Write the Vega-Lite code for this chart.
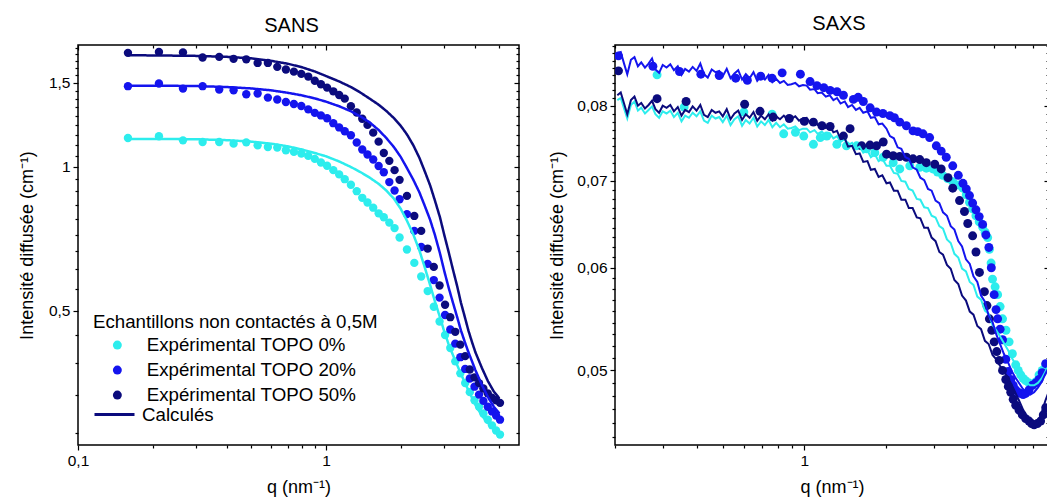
{
"$schema": "https://vega.github.io/schema/vega-lite/v6.json",
"padding": {"left": 17, "top": 13, "right": 0, "bottom": 0},
"spacing": 27,
"config": {
  "font": "Liberation Sans",
  "view": {"stroke": "black", "strokeWidth": 1.5},
  "axis": {"domain": false, "grid": false, "tickColor": "black", "tickWidth": 1.2, "labelColor": "black", "titleColor": "black", "labelFontSize": 15.5, "titleFontSize": 18, "titleFontWeight": "normal", "labelFlush": false, "labelOverlap": false, "labelPadding": 3, "titlePadding": 10},
  "title": {"fontSize": 20, "fontWeight": "normal", "color": "black"}
},
"resolve": {"scale": {"color": "independent"}},
"datasets": {
"sansP": [
{"s":"0%","q":0.159,"I":1.15},{"s":"0%","q":0.212,"I":1.16},{"s":"0%","q":0.265,"I":1.137},{"s":"0%","q":0.318,"I":1.128},{"s":"0%","q":0.371,"I":1.128},{"s":"0%","q":0.424,"I":1.119},{"s":"0%","q":0.477,"I":1.126},{"s":"0%","q":0.53,"I":1.11},{"s":"0%","q":0.583,"I":1.101},{"s":"0%","q":0.636,"I":1.098},{"s":"0%","q":0.689,"I":1.084},{"s":"0%","q":0.742,"I":1.076},{"s":"0%","q":0.795,"I":1.067},{"s":"0%","q":0.848,"I":1.055},{"s":"0%","q":0.901,"I":1.04},{"s":"0%","q":0.954,"I":1.022},{"s":"0%","q":1.01,"I":1.006},{"s":"0%","q":1.07,"I":0.985},{"s":"0%","q":1.13,"I":0.965},{"s":"0%","q":1.19,"I":0.943},{"s":"0%","q":1.26,"I":0.918},{"s":"0%","q":1.33,"I":0.89},{"s":"0%","q":1.4,"I":0.862},{"s":"0%","q":1.47,"I":0.843},{"s":"0%","q":1.55,"I":0.822},{"s":"0%","q":1.63,"I":0.8},{"s":"0%","q":1.71,"I":0.785},{"s":"0%","q":1.8,"I":0.765},{"s":"0%","q":1.89,"I":0.745},{"s":"0%","q":1.98,"I":0.712},{"s":"0%","q":2.12,"I":0.672},{"s":"0%","q":2.27,"I":0.63},{"s":"0%","q":2.42,"I":0.59},{"s":"0%","q":2.57,"I":0.55},{"s":"0%","q":2.72,"I":0.51},{"s":"0%","q":2.87,"I":0.475},{"s":"0%","q":3.02,"I":0.445},{"s":"0%","q":3.17,"I":0.418},{"s":"0%","q":3.32,"I":0.392},{"s":"0%","q":3.48,"I":0.37},{"s":"0%","q":3.64,"I":0.353},{"s":"0%","q":3.8,"I":0.338},{"s":"0%","q":3.97,"I":0.325},{"s":"0%","q":4.14,"I":0.315},{"s":"0%","q":4.31,"I":0.305},{"s":"0%","q":4.49,"I":0.296},{"s":"0%","q":4.67,"I":0.288},{"s":"0%","q":4.85,"I":0.281},{"s":"0%","q":5.03,"I":0.2755},
{"s":"20%","q":0.159,"I":1.476},{"s":"20%","q":0.212,"I":1.495},{"s":"20%","q":0.265,"I":1.459},{"s":"20%","q":0.318,"I":1.476},{"s":"20%","q":0.371,"I":1.452},{"s":"20%","q":0.424,"I":1.447},{"s":"20%","q":0.477,"I":1.42},{"s":"20%","q":0.53,"I":1.425},{"s":"20%","q":0.583,"I":1.397},{"s":"20%","q":0.636,"I":1.384},{"s":"20%","q":0.689,"I":1.368},{"s":"20%","q":0.742,"I":1.355},{"s":"20%","q":0.795,"I":1.342},{"s":"20%","q":0.848,"I":1.32},{"s":"20%","q":0.901,"I":1.298},{"s":"20%","q":0.954,"I":1.282},{"s":"20%","q":1.01,"I":1.265},{"s":"20%","q":1.07,"I":1.235},{"s":"20%","q":1.13,"I":1.21},{"s":"20%","q":1.19,"I":1.188},{"s":"20%","q":1.26,"I":1.165},{"s":"20%","q":1.33,"I":1.125},{"s":"20%","q":1.4,"I":1.088},{"s":"20%","q":1.47,"I":1.062},{"s":"20%","q":1.55,"I":1.037},{"s":"20%","q":1.63,"I":1.005},{"s":"20%","q":1.71,"I":0.975},{"s":"20%","q":1.8,"I":0.93},{"s":"20%","q":1.89,"I":0.893},{"s":"20%","q":1.98,"I":0.856},{"s":"20%","q":2.12,"I":0.797},{"s":"20%","q":2.27,"I":0.735},{"s":"20%","q":2.42,"I":0.68},{"s":"20%","q":2.57,"I":0.627},{"s":"20%","q":2.72,"I":0.58},{"s":"20%","q":2.87,"I":0.533},{"s":"20%","q":3.02,"I":0.49},{"s":"20%","q":3.17,"I":0.457},{"s":"20%","q":3.32,"I":0.427},{"s":"20%","q":3.48,"I":0.4},{"s":"20%","q":3.64,"I":0.378},{"s":"20%","q":3.8,"I":0.361},{"s":"20%","q":3.97,"I":0.347},{"s":"20%","q":4.14,"I":0.334},{"s":"20%","q":4.31,"I":0.324},{"s":"20%","q":4.49,"I":0.315},{"s":"20%","q":4.67,"I":0.308},{"s":"20%","q":4.85,"I":0.302},{"s":"20%","q":5.03,"I":0.296},
{"s":"50%","q":0.159,"I":1.733},{"s":"50%","q":0.212,"I":1.741},{"s":"50%","q":0.265,"I":1.737},{"s":"50%","q":0.318,"I":1.695},{"s":"50%","q":0.371,"I":1.7},{"s":"50%","q":0.424,"I":1.684},{"s":"50%","q":0.477,"I":1.68},{"s":"50%","q":0.53,"I":1.651},{"s":"50%","q":0.583,"I":1.651},{"s":"50%","q":0.636,"I":1.62},{"s":"50%","q":0.689,"I":1.6},{"s":"50%","q":0.742,"I":1.583},{"s":"50%","q":0.795,"I":1.566},{"s":"50%","q":0.848,"I":1.546},{"s":"50%","q":0.901,"I":1.515},{"s":"50%","q":0.954,"I":1.49},{"s":"50%","q":1.01,"I":1.466},{"s":"50%","q":1.07,"I":1.44},{"s":"50%","q":1.13,"I":1.415},{"s":"50%","q":1.19,"I":1.39},{"s":"50%","q":1.26,"I":1.34},{"s":"50%","q":1.33,"I":1.3},{"s":"50%","q":1.4,"I":1.262},{"s":"50%","q":1.47,"I":1.225},{"s":"50%","q":1.55,"I":1.18},{"s":"50%","q":1.63,"I":1.13},{"s":"50%","q":1.71,"I":1.07},{"s":"50%","q":1.8,"I":1.03},{"s":"50%","q":1.89,"I":0.985},{"s":"50%","q":1.98,"I":0.94},{"s":"50%","q":2.12,"I":0.87},{"s":"50%","q":2.27,"I":0.79},{"s":"50%","q":2.42,"I":0.735},{"s":"50%","q":2.57,"I":0.675},{"s":"50%","q":2.72,"I":0.618},{"s":"50%","q":2.87,"I":0.565},{"s":"50%","q":3.02,"I":0.515},{"s":"50%","q":3.17,"I":0.485},{"s":"50%","q":3.32,"I":0.452},{"s":"50%","q":3.48,"I":0.425},{"s":"50%","q":3.64,"I":0.402},{"s":"50%","q":3.8,"I":0.377},{"s":"50%","q":3.97,"I":0.363},{"s":"50%","q":4.14,"I":0.353},{"s":"50%","q":4.31,"I":0.344},{"s":"50%","q":4.49,"I":0.336},{"s":"50%","q":4.67,"I":0.329},{"s":"50%","q":4.85,"I":0.325},{"s":"50%","q":5.03,"I":0.321}
],
"sansL": [
{"s":"0%","q":0.159,"I":1.145},{"s":"0%","q":0.2,"I":1.145},{"s":"0%","q":0.3,"I":1.143},{"s":"0%","q":0.4,"I":1.138},{"s":"0%","q":0.5,"I":1.13},{"s":"0%","q":0.6,"I":1.119},{"s":"0%","q":0.7,"I":1.105},{"s":"0%","q":0.8,"I":1.088},{"s":"0%","q":0.9,"I":1.07},{"s":"0%","q":1.0,"I":1.053},{"s":"0%","q":1.13,"I":1.027},{"s":"0%","q":1.26,"I":1.0},{"s":"0%","q":1.38,"I":0.975},{"s":"0%","q":1.5,"I":0.95},{"s":"0%","q":1.63,"I":0.922},{"s":"0%","q":1.75,"I":0.893},{"s":"0%","q":1.88,"I":0.858},{"s":"0%","q":2.0,"I":0.818},{"s":"0%","q":2.12,"I":0.772},{"s":"0%","q":2.25,"I":0.722},{"s":"0%","q":2.38,"I":0.669},{"s":"0%","q":2.5,"I":0.617},{"s":"0%","q":2.63,"I":0.566},{"s":"0%","q":2.75,"I":0.523},{"s":"0%","q":2.88,"I":0.485},{"s":"0%","q":3.0,"I":0.452},{"s":"0%","q":3.12,"I":0.426},{"s":"0%","q":3.25,"I":0.404},{"s":"0%","q":3.38,"I":0.385},{"s":"0%","q":3.5,"I":0.369},{"s":"0%","q":3.63,"I":0.354},{"s":"0%","q":3.75,"I":0.341},{"s":"0%","q":3.88,"I":0.329},{"s":"0%","q":4.0,"I":0.318},{"s":"0%","q":4.25,"I":0.302},{"s":"0%","q":4.5,"I":0.291},{"s":"0%","q":4.75,"I":0.284},{"s":"0%","q":5.0,"I":0.279},
{"s":"20%","q":0.159,"I":1.48},{"s":"20%","q":0.2,"I":1.48},{"s":"20%","q":0.3,"I":1.477},{"s":"20%","q":0.4,"I":1.47},{"s":"20%","q":0.5,"I":1.46},{"s":"20%","q":0.6,"I":1.447},{"s":"20%","q":0.7,"I":1.43},{"s":"20%","q":0.8,"I":1.412},{"s":"20%","q":0.9,"I":1.392},{"s":"20%","q":1.0,"I":1.37},{"s":"20%","q":1.13,"I":1.34},{"s":"20%","q":1.26,"I":1.308},{"s":"20%","q":1.38,"I":1.275},{"s":"20%","q":1.5,"I":1.24},{"s":"20%","q":1.63,"I":1.195},{"s":"20%","q":1.75,"I":1.15},{"s":"20%","q":1.88,"I":1.1},{"s":"20%","q":2.0,"I":1.05},{"s":"20%","q":2.12,"I":0.995},{"s":"20%","q":2.25,"I":0.94},{"s":"20%","q":2.38,"I":0.885},{"s":"20%","q":2.5,"I":0.83},{"s":"20%","q":2.63,"I":0.775},{"s":"20%","q":2.75,"I":0.72},{"s":"20%","q":2.88,"I":0.66},{"s":"20%","q":3.0,"I":0.605},{"s":"20%","q":3.12,"I":0.56},{"s":"20%","q":3.25,"I":0.52},{"s":"20%","q":3.38,"I":0.485},{"s":"20%","q":3.5,"I":0.455},{"s":"20%","q":3.63,"I":0.43},{"s":"20%","q":3.75,"I":0.41},{"s":"20%","q":3.88,"I":0.392},{"s":"20%","q":4.0,"I":0.376},{"s":"20%","q":4.25,"I":0.35},{"s":"20%","q":4.5,"I":0.33},{"s":"20%","q":4.75,"I":0.315},{"s":"20%","q":5.0,"I":0.305},
{"s":"50%","q":0.159,"I":1.713},{"s":"50%","q":0.2,"I":1.712},{"s":"50%","q":0.3,"I":1.708},{"s":"50%","q":0.4,"I":1.7},{"s":"50%","q":0.5,"I":1.688},{"s":"50%","q":0.6,"I":1.668},{"s":"50%","q":0.7,"I":1.645},{"s":"50%","q":0.8,"I":1.617},{"s":"50%","q":0.9,"I":1.585},{"s":"50%","q":1.0,"I":1.55},{"s":"50%","q":1.13,"I":1.51},{"s":"50%","q":1.26,"I":1.47},{"s":"50%","q":1.38,"I":1.43},{"s":"50%","q":1.5,"I":1.39},{"s":"50%","q":1.63,"I":1.35},{"s":"50%","q":1.75,"I":1.31},{"s":"50%","q":1.88,"I":1.265},{"s":"50%","q":2.0,"I":1.22},{"s":"50%","q":2.12,"I":1.17},{"s":"50%","q":2.25,"I":1.11},{"s":"50%","q":2.38,"I":1.045},{"s":"50%","q":2.5,"I":0.98},{"s":"50%","q":2.63,"I":0.915},{"s":"50%","q":2.75,"I":0.85},{"s":"50%","q":2.88,"I":0.785},{"s":"50%","q":3.0,"I":0.72},{"s":"50%","q":3.12,"I":0.665},{"s":"50%","q":3.25,"I":0.61},{"s":"50%","q":3.38,"I":0.563},{"s":"50%","q":3.5,"I":0.52},{"s":"50%","q":3.63,"I":0.485},{"s":"50%","q":3.75,"I":0.455},{"s":"50%","q":3.88,"I":0.43},{"s":"50%","q":4.0,"I":0.41},{"s":"50%","q":4.25,"I":0.38},{"s":"50%","q":4.5,"I":0.356},{"s":"50%","q":4.75,"I":0.339},{"s":"50%","q":5.0,"I":0.328}
],
"saxsP": [
{"s":"0%","q":0.286,"I":0.0845},{"s":"0%","q":0.36,"I":0.0798},{"s":"0%","q":0.598,"I":0.0791},{"s":"0%","q":0.76,"I":0.0788},{"s":"0%","q":0.839,"I":0.0761},{"s":"0%","q":0.927,"I":0.0763},{"s":"0%","q":0.995,"I":0.0758},{"s":"0%","q":1.08,"I":0.0747},{"s":"0%","q":1.145,"I":0.0756},{"s":"0%","q":1.21,"I":0.0758},{"s":"0%","q":1.318,"I":0.0747},{"s":"0%","q":1.43,"I":0.0745},{"s":"0%","q":1.56,"I":0.0745},{"s":"0%","q":1.698,"I":0.0741},{"s":"0%","q":1.82,"I":0.0736},{"s":"0%","q":1.955,"I":0.073},{"s":"0%","q":2.128,"I":0.0723},{"s":"0%","q":2.25,"I":0.0715},{"s":"0%","q":2.45,"I":0.0719},{"s":"0%","q":2.667,"I":0.0717},{"s":"0%","q":2.82,"I":0.0716},{"s":"0%","q":2.98,"I":0.0715},{"s":"0%","q":3.1,"I":0.0711},{"s":"0%","q":3.24,"I":0.0707},{"s":"0%","q":3.38,"I":0.0703},{"s":"0%","q":3.53,"I":0.0699},{"s":"0%","q":3.7,"I":0.0695},{"s":"0%","q":3.85,"I":0.0691},{"s":"0%","q":3.96,"I":0.0683},{"s":"0%","q":4.07,"I":0.0674},{"s":"0%","q":4.18,"I":0.0666},{"s":"0%","q":4.3,"I":0.0658},{"s":"0%","q":4.42,"I":0.0651},{"s":"0%","q":4.55,"I":0.0645},{"s":"0%","q":4.65,"I":0.0639},{"s":"0%","q":4.75,"I":0.0633},{"s":"0%","q":4.82,"I":0.062},{"s":"0%","q":4.89,"I":0.0605},{"s":"0%","q":4.95,"I":0.0588},{"s":"0%","q":5.06,"I":0.058},{"s":"0%","q":5.17,"I":0.0572},{"s":"0%","q":5.28,"I":0.056},{"s":"0%","q":5.39,"I":0.0548},{"s":"0%","q":5.55,"I":0.0537},{"s":"0%","q":5.7,"I":0.0526},{"s":"0%","q":5.86,"I":0.0515},{"s":"0%","q":6.03,"I":0.0505},{"s":"0%","q":6.16,"I":0.05},{"s":"0%","q":6.29,"I":0.0496},{"s":"0%","q":6.42,"I":0.0493},{"s":"0%","q":6.56,"I":0.0491},{"s":"0%","q":6.75,"I":0.0489},{"s":"0%","q":6.95,"I":0.0487},{"s":"0%","q":7.15,"I":0.049},{"s":"0%","q":7.35,"I":0.0496},{"s":"0%","q":7.55,"I":0.05},{"s":"0%","q":7.78,"I":0.0505},
{"s":"20%","q":0.206,"I":0.0874},{"s":"20%","q":0.276,"I":0.0858},{"s":"20%","q":0.346,"I":0.085},{"s":"20%","q":0.415,"I":0.0846},{"s":"20%","q":0.485,"I":0.0844},{"s":"20%","q":0.558,"I":0.084},{"s":"20%","q":0.616,"I":0.0837},{"s":"20%","q":0.69,"I":0.0843},{"s":"20%","q":0.76,"I":0.084},{"s":"20%","q":0.828,"I":0.0848},{"s":"20%","q":0.967,"I":0.0846},{"s":"20%","q":1.05,"I":0.0835},{"s":"20%","q":1.113,"I":0.0829},{"s":"20%","q":1.18,"I":0.0826},{"s":"20%","q":1.245,"I":0.0822},{"s":"20%","q":1.32,"I":0.082},{"s":"20%","q":1.394,"I":0.0815},{"s":"20%","q":1.517,"I":0.0809},{"s":"20%","q":1.58,"I":0.0812},{"s":"20%","q":1.651,"I":0.0806},{"s":"20%","q":1.75,"I":0.0797},{"s":"20%","q":1.847,"I":0.0791},{"s":"20%","q":1.95,"I":0.0789},{"s":"20%","q":2.069,"I":0.0786},{"s":"20%","q":2.15,"I":0.0783},{"s":"20%","q":2.25,"I":0.0777},{"s":"20%","q":2.38,"I":0.0772},{"s":"20%","q":2.519,"I":0.0765},{"s":"20%","q":2.62,"I":0.0764},{"s":"20%","q":2.741,"I":0.0761},{"s":"20%","q":2.9,"I":0.0756},{"s":"20%","q":3.07,"I":0.0745},{"s":"20%","q":3.2,"I":0.0738},{"s":"20%","q":3.34,"I":0.073},{"s":"20%","q":3.53,"I":0.0719},{"s":"20%","q":3.7,"I":0.0707},{"s":"20%","q":3.85,"I":0.0697},{"s":"20%","q":3.96,"I":0.069},{"s":"20%","q":4.07,"I":0.0682},{"s":"20%","q":4.18,"I":0.0673},{"s":"20%","q":4.3,"I":0.0665},{"s":"20%","q":4.42,"I":0.0657},{"s":"20%","q":4.55,"I":0.0648},{"s":"20%","q":4.68,"I":0.0636},{"s":"20%","q":4.8,"I":0.0622},{"s":"20%","q":4.9,"I":0.06},{"s":"20%","q":5.02,"I":0.0572},{"s":"20%","q":5.1,"I":0.0557},{"s":"20%","q":5.17,"I":0.0548},{"s":"20%","q":5.28,"I":0.0538},{"s":"20%","q":5.39,"I":0.0528},{"s":"20%","q":5.54,"I":0.051},{"s":"20%","q":5.66,"I":0.0499},{"s":"20%","q":5.78,"I":0.0492},{"s":"20%","q":5.9,"I":0.0487},{"s":"20%","q":6.03,"I":0.0483},{"s":"20%","q":6.16,"I":0.0481},{"s":"20%","q":6.29,"I":0.048},{"s":"20%","q":6.42,"I":0.0479},{"s":"20%","q":6.56,"I":0.048},{"s":"20%","q":6.75,"I":0.0483},{"s":"20%","q":6.95,"I":0.0487},{"s":"20%","q":7.15,"I":0.0489},{"s":"20%","q":7.35,"I":0.0492},{"s":"20%","q":7.55,"I":0.0498},{"s":"20%","q":7.78,"I":0.0506},
{"s":"50%","q":0.206,"I":0.0851},{"s":"50%","q":0.286,"I":0.081},{"s":"50%","q":0.366,"I":0.0806},{"s":"50%","q":0.602,"I":0.0802},{"s":"50%","q":0.686,"I":0.0792},{"s":"50%","q":0.767,"I":0.0784},{"s":"50%","q":0.88,"I":0.0782},{"s":"50%","q":1.0,"I":0.0778},{"s":"50%","q":1.08,"I":0.0777},{"s":"50%","q":1.161,"I":0.0772},{"s":"50%","q":1.245,"I":0.0771},{"s":"50%","q":1.394,"I":0.0758},{"s":"50%","q":1.475,"I":0.0768},{"s":"50%","q":1.628,"I":0.0745},{"s":"50%","q":1.747,"I":0.0746},{"s":"50%","q":1.847,"I":0.0745},{"s":"50%","q":1.955,"I":0.075},{"s":"50%","q":2.011,"I":0.0734},{"s":"50%","q":2.128,"I":0.0732},{"s":"50%","q":2.25,"I":0.0731},{"s":"50%","q":2.381,"I":0.073},{"s":"50%","q":2.519,"I":0.0728},{"s":"50%","q":2.667,"I":0.0727},{"s":"50%","q":2.82,"I":0.0723},{"s":"50%","q":3.03,"I":0.0721},{"s":"50%","q":3.2,"I":0.0715},{"s":"50%","q":3.39,"I":0.0704},{"s":"50%","q":3.53,"I":0.0691},{"s":"50%","q":3.74,"I":0.0676},{"s":"50%","q":3.9,"I":0.0663},{"s":"50%","q":4.01,"I":0.0649},{"s":"50%","q":4.18,"I":0.0635},{"s":"50%","q":4.3,"I":0.0617},{"s":"50%","q":4.43,"I":0.0595},{"s":"50%","q":4.62,"I":0.0575},{"s":"50%","q":4.72,"I":0.0561},{"s":"50%","q":4.82,"I":0.0548},{"s":"50%","q":4.92,"I":0.0537},{"s":"50%","q":5.02,"I":0.0526},{"s":"50%","q":5.13,"I":0.0517},{"s":"50%","q":5.24,"I":0.0509},{"s":"50%","q":5.39,"I":0.05},{"s":"50%","q":5.54,"I":0.0492},{"s":"50%","q":5.66,"I":0.0486},{"s":"50%","q":5.78,"I":0.0481},{"s":"50%","q":5.9,"I":0.0475},{"s":"50%","q":6.03,"I":0.047},{"s":"50%","q":6.2,"I":0.0466},{"s":"50%","q":6.38,"I":0.0462},{"s":"50%","q":6.56,"I":0.0459},{"s":"50%","q":6.75,"I":0.0457},{"s":"50%","q":6.9,"I":0.0455},{"s":"50%","q":7.05,"I":0.0454},{"s":"50%","q":7.25,"I":0.0455},{"s":"50%","q":7.45,"I":0.0457},{"s":"50%","q":7.62,"I":0.0462},{"s":"50%","q":7.78,"I":0.0468}
],
"saxsL": [
{"s":"0%","q":0.204,"I":0.0808},{"s":"0%","q":0.21,"I":0.0811},{"s":"0%","q":0.216,"I":0.0796},{"s":"0%","q":0.222,"I":0.0782},{"s":"0%","q":0.229,"I":0.0801},{"s":"0%","q":0.236,"I":0.0806},{"s":"0%","q":0.243,"I":0.0793},{"s":"0%","q":0.25,"I":0.0797},{"s":"0%","q":0.258,"I":0.0789},{"s":"0%","q":0.266,"I":0.0794},{"s":"0%","q":0.274,"I":0.0799},{"s":"0%","q":0.282,"I":0.0788},{"s":"0%","q":0.291,"I":0.0783},{"s":"0%","q":0.3,"I":0.0792},
{"s":"0%","q":0.31,"I":0.0789},{"s":"0%","q":0.32,"I":0.0793},{"s":"0%","q":0.33,"I":0.0784},{"s":"0%","q":0.341,"I":0.079},{"s":"0%","q":0.352,"I":0.0778},{"s":"0%","q":0.363,"I":0.0786},{"s":"0%","q":0.375,"I":0.0783},{"s":"0%","q":0.387,"I":0.079},{"s":"0%","q":0.4,"I":0.0785},
{"s":"0%","q":0.413,"I":0.0792},{"s":"0%","q":0.426,"I":0.0779},{"s":"0%","q":0.44,"I":0.0776},{"s":"0%","q":0.455,"I":0.0786},{"s":"0%","q":0.47,"I":0.0782},{"s":"0%","q":0.485,"I":0.0784},{"s":"0%","q":0.5,"I":0.0777},
{"s":"0%","q":0.517,"I":0.0786},{"s":"0%","q":0.534,"I":0.0773},{"s":"0%","q":0.552,"I":0.0781},{"s":"0%","q":0.57,"I":0.0785},{"s":"0%","q":0.589,"I":0.0772},{"s":"0%","q":0.608,"I":0.078},{"s":"0%","q":0.628,"I":0.0775},{"s":"0%","q":0.649,"I":0.0783},{"s":"0%","q":0.67,"I":0.0771},{"s":"0%","q":0.692,"I":0.0778},{"s":"0%","q":0.715,"I":0.0773},{"s":"0%","q":0.738,"I":0.078},{"s":"0%","q":0.762,"I":0.077},{"s":"0%","q":0.787,"I":0.0776},{"s":"0%","q":0.813,"I":0.077},{"s":"0%","q":0.84,"I":0.0774},{"s":"0%","q":0.868,"I":0.0768},{"s":"0%","q":0.896,"I":0.0769},{"s":"0%","q":0.926,"I":0.0771},{"s":"0%","q":0.956,"I":0.0766},{"s":"0%","q":0.988,"I":0.0768},
{"s":"0%","q":1.02,"I":0.0768},{"s":"0%","q":1.05,"I":0.0763},{"s":"0%","q":1.09,"I":0.0766},{"s":"0%","q":1.12,"I":0.0761},{"s":"0%","q":1.16,"I":0.0764},{"s":"0%","q":1.2,"I":0.0758},{"s":"0%","q":1.24,"I":0.0762},{"s":"0%","q":1.28,"I":0.0755},{"s":"0%","q":1.32,"I":0.0758},{"s":"0%","q":1.36,"I":0.075},{"s":"0%","q":1.41,"I":0.0754},{"s":"0%","q":1.45,"I":0.0746},{"s":"0%","q":1.5,"I":0.0749},{"s":"0%","q":1.55,"I":0.0741},{"s":"0%","q":1.6,"I":0.0744},{"s":"0%","q":1.65,"I":0.0736},{"s":"0%","q":1.71,"I":0.0739},{"s":"0%","q":1.76,"I":0.073},{"s":"0%","q":1.82,"I":0.0734},{"s":"0%","q":1.88,"I":0.0725},{"s":"0%","q":1.94,"I":0.0728},
{"s":"0%","q":2.01,"I":0.0719},{"s":"0%","q":2.07,"I":0.0719},{"s":"0%","q":2.14,"I":0.071},{"s":"0%","q":2.21,"I":0.0709},{"s":"0%","q":2.28,"I":0.07},{"s":"0%","q":2.36,"I":0.0699},{"s":"0%","q":2.43,"I":0.069},{"s":"0%","q":2.51,"I":0.0688},{"s":"0%","q":2.6,"I":0.0678},{"s":"0%","q":2.68,"I":0.0677},{"s":"0%","q":2.77,"I":0.0668},{"s":"0%","q":2.86,"I":0.0667},{"s":"0%","q":2.95,"I":0.0658},
{"s":"0%","q":3.05,"I":0.0656},{"s":"0%","q":3.15,"I":0.0646},{"s":"0%","q":3.25,"I":0.0643},{"s":"0%","q":3.36,"I":0.0631},{"s":"0%","q":3.47,"I":0.0627},{"s":"0%","q":3.58,"I":0.0615},{"s":"0%","q":3.7,"I":0.0611},{"s":"0%","q":3.82,"I":0.0599},{"s":"0%","q":3.95,"I":0.0596},
{"s":"0%","q":4.08,"I":0.0585},{"s":"0%","q":4.21,"I":0.0582},{"s":"0%","q":4.35,"I":0.057},{"s":"0%","q":4.49,"I":0.0567},{"s":"0%","q":4.64,"I":0.0556},{"s":"0%","q":4.79,"I":0.0553},{"s":"0%","q":4.95,"I":0.0542},
{"s":"0%","q":5.11,"I":0.0537},{"s":"0%","q":5.28,"I":0.0531},{"s":"0%","q":5.45,"I":0.0525},{"s":"0%","q":5.63,"I":0.0519},{"s":"0%","q":5.81,"I":0.0512},{"s":"0%","q":6.0,"I":0.0506},{"s":"0%","q":6.2,"I":0.05},{"s":"0%","q":6.4,"I":0.0494},{"s":"0%","q":6.61,"I":0.0489},{"s":"0%","q":6.82,"I":0.0487},{"s":"0%","q":7.05,"I":0.0487},{"s":"0%","q":7.28,"I":0.0489},{"s":"0%","q":7.52,"I":0.0493},{"s":"0%","q":7.76,"I":0.0499},{"s":"0%","q":8.0,"I":0.0505},
{"s":"20%","q":0.204,"I":0.0878},{"s":"20%","q":0.21,"I":0.088},{"s":"20%","q":0.216,"I":0.0862},{"s":"20%","q":0.222,"I":0.0846},{"s":"20%","q":0.229,"I":0.0868},{"s":"20%","q":0.236,"I":0.0872},{"s":"20%","q":0.243,"I":0.0858},{"s":"20%","q":0.25,"I":0.0864},{"s":"20%","q":0.258,"I":0.0856},{"s":"20%","q":0.266,"I":0.0862},{"s":"20%","q":0.274,"I":0.087},{"s":"20%","q":0.282,"I":0.0853},{"s":"20%","q":0.291,"I":0.0848},{"s":"20%","q":0.3,"I":0.086},
{"s":"20%","q":0.31,"I":0.0856},{"s":"20%","q":0.32,"I":0.0861},{"s":"20%","q":0.33,"I":0.0852},{"s":"20%","q":0.341,"I":0.0858},{"s":"20%","q":0.352,"I":0.0845},{"s":"20%","q":0.363,"I":0.0854},{"s":"20%","q":0.375,"I":0.085},{"s":"20%","q":0.387,"I":0.0857},{"s":"20%","q":0.4,"I":0.0851},
{"s":"20%","q":0.413,"I":0.0862},{"s":"20%","q":0.426,"I":0.0846},{"s":"20%","q":0.44,"I":0.0841},{"s":"20%","q":0.455,"I":0.0853},{"s":"20%","q":0.47,"I":0.0849},{"s":"20%","q":0.485,"I":0.0851},{"s":"20%","q":0.5,"I":0.0843},
{"s":"20%","q":0.517,"I":0.0854},{"s":"20%","q":0.534,"I":0.084},{"s":"20%","q":0.552,"I":0.0847},{"s":"20%","q":0.57,"I":0.0852},{"s":"20%","q":0.589,"I":0.0838},{"s":"20%","q":0.608,"I":0.0846},{"s":"20%","q":0.628,"I":0.084},{"s":"20%","q":0.649,"I":0.0849},{"s":"20%","q":0.67,"I":0.0836},{"s":"20%","q":0.692,"I":0.0843},{"s":"20%","q":0.715,"I":0.0838},{"s":"20%","q":0.738,"I":0.0845},{"s":"20%","q":0.762,"I":0.0834},{"s":"20%","q":0.787,"I":0.0839},{"s":"20%","q":0.813,"I":0.0833},{"s":"20%","q":0.84,"I":0.0836},{"s":"20%","q":0.868,"I":0.083},{"s":"20%","q":0.896,"I":0.0831},{"s":"20%","q":0.926,"I":0.0833},{"s":"20%","q":0.956,"I":0.0828},{"s":"20%","q":0.988,"I":0.083},
{"s":"20%","q":1.02,"I":0.0829},{"s":"20%","q":1.05,"I":0.0823},{"s":"20%","q":1.09,"I":0.0824},{"s":"20%","q":1.12,"I":0.0818},{"s":"20%","q":1.16,"I":0.0819},{"s":"20%","q":1.2,"I":0.0813},{"s":"20%","q":1.24,"I":0.0815},{"s":"20%","q":1.28,"I":0.0808},{"s":"20%","q":1.32,"I":0.0811},{"s":"20%","q":1.36,"I":0.0803},{"s":"20%","q":1.41,"I":0.0806},{"s":"20%","q":1.45,"I":0.0798},{"s":"20%","q":1.5,"I":0.0801},{"s":"20%","q":1.55,"I":0.0794},{"s":"20%","q":1.6,"I":0.0797},{"s":"20%","q":1.65,"I":0.079},{"s":"20%","q":1.71,"I":0.0792},{"s":"20%","q":1.76,"I":0.0783},{"s":"20%","q":1.82,"I":0.0784},{"s":"20%","q":1.88,"I":0.0774},{"s":"20%","q":1.94,"I":0.0775},
{"s":"20%","q":2.01,"I":0.0768},{"s":"20%","q":2.07,"I":0.0758},{"s":"20%","q":2.14,"I":0.0755},{"s":"20%","q":2.21,"I":0.0743},{"s":"20%","q":2.28,"I":0.0741},{"s":"20%","q":2.36,"I":0.073},{"s":"20%","q":2.43,"I":0.0728},{"s":"20%","q":2.51,"I":0.0717},{"s":"20%","q":2.6,"I":0.0714},{"s":"20%","q":2.68,"I":0.0704},{"s":"20%","q":2.77,"I":0.0701},{"s":"20%","q":2.86,"I":0.069},{"s":"20%","q":2.95,"I":0.0688},
{"s":"20%","q":3.05,"I":0.0676},{"s":"20%","q":3.15,"I":0.0673},{"s":"20%","q":3.25,"I":0.0662},{"s":"20%","q":3.36,"I":0.0658},{"s":"20%","q":3.47,"I":0.0646},{"s":"20%","q":3.58,"I":0.0642},{"s":"20%","q":3.7,"I":0.0629},{"s":"20%","q":3.82,"I":0.0623},{"s":"20%","q":3.95,"I":0.0609},
{"s":"20%","q":4.08,"I":0.0604},{"s":"20%","q":4.21,"I":0.0591},{"s":"20%","q":4.35,"I":0.0585},{"s":"20%","q":4.49,"I":0.0571},{"s":"20%","q":4.64,"I":0.0565},{"s":"20%","q":4.79,"I":0.0551},{"s":"20%","q":4.95,"I":0.0545},
{"s":"20%","q":5.11,"I":0.0533},{"s":"20%","q":5.28,"I":0.0524},{"s":"20%","q":5.45,"I":0.0515},{"s":"20%","q":5.63,"I":0.0508},{"s":"20%","q":5.81,"I":0.05},{"s":"20%","q":6.0,"I":0.0494},{"s":"20%","q":6.2,"I":0.0489},{"s":"20%","q":6.4,"I":0.0484},{"s":"20%","q":6.61,"I":0.048},{"s":"20%","q":6.82,"I":0.0479},{"s":"20%","q":7.05,"I":0.0481},{"s":"20%","q":7.28,"I":0.0485},{"s":"20%","q":7.52,"I":0.049},{"s":"20%","q":7.76,"I":0.0497},{"s":"20%","q":8.0,"I":0.0503},
{"s":"50%","q":0.204,"I":0.0815},{"s":"50%","q":0.21,"I":0.0819},{"s":"50%","q":0.216,"I":0.0803},{"s":"50%","q":0.222,"I":0.0788},{"s":"50%","q":0.229,"I":0.0808},{"s":"50%","q":0.236,"I":0.0813},{"s":"50%","q":0.243,"I":0.08},{"s":"50%","q":0.25,"I":0.0804},{"s":"50%","q":0.258,"I":0.0796},{"s":"50%","q":0.266,"I":0.0801},{"s":"50%","q":0.274,"I":0.0807},{"s":"50%","q":0.282,"I":0.0795},{"s":"50%","q":0.291,"I":0.079},{"s":"50%","q":0.3,"I":0.08},
{"s":"50%","q":0.31,"I":0.0797},{"s":"50%","q":0.32,"I":0.0801},{"s":"50%","q":0.33,"I":0.0792},{"s":"50%","q":0.341,"I":0.0798},{"s":"50%","q":0.352,"I":0.0786},{"s":"50%","q":0.363,"I":0.0794},{"s":"50%","q":0.375,"I":0.0791},{"s":"50%","q":0.387,"I":0.0799},{"s":"50%","q":0.4,"I":0.0793},
{"s":"50%","q":0.413,"I":0.0801},{"s":"50%","q":0.426,"I":0.0787},{"s":"50%","q":0.44,"I":0.0784},{"s":"50%","q":0.455,"I":0.0794},{"s":"50%","q":0.47,"I":0.079},{"s":"50%","q":0.485,"I":0.0792},{"s":"50%","q":0.5,"I":0.0785},
{"s":"50%","q":0.517,"I":0.0795},{"s":"50%","q":0.534,"I":0.0781},{"s":"50%","q":0.552,"I":0.0789},{"s":"50%","q":0.57,"I":0.0793},{"s":"50%","q":0.589,"I":0.078},{"s":"50%","q":0.608,"I":0.0788},{"s":"50%","q":0.628,"I":0.0783},{"s":"50%","q":0.649,"I":0.0791},{"s":"50%","q":0.67,"I":0.0779},{"s":"50%","q":0.692,"I":0.0786},{"s":"50%","q":0.715,"I":0.0781},{"s":"50%","q":0.738,"I":0.0788},{"s":"50%","q":0.762,"I":0.0779},{"s":"50%","q":0.787,"I":0.0785},{"s":"50%","q":0.813,"I":0.0781},{"s":"50%","q":0.84,"I":0.0786},{"s":"50%","q":0.868,"I":0.078},{"s":"50%","q":0.896,"I":0.0782},{"s":"50%","q":0.926,"I":0.0785},{"s":"50%","q":0.956,"I":0.0779},{"s":"50%","q":0.988,"I":0.0782},
{"s":"50%","q":1.02,"I":0.0783},{"s":"50%","q":1.05,"I":0.0776},{"s":"50%","q":1.09,"I":0.078},{"s":"50%","q":1.12,"I":0.0773},{"s":"50%","q":1.16,"I":0.0776},{"s":"50%","q":1.2,"I":0.0769},{"s":"50%","q":1.24,"I":0.0772},{"s":"50%","q":1.28,"I":0.0763},{"s":"50%","q":1.32,"I":0.0765},{"s":"50%","q":1.36,"I":0.0754},{"s":"50%","q":1.41,"I":0.0755},{"s":"50%","q":1.45,"I":0.0744},{"s":"50%","q":1.5,"I":0.0745},{"s":"50%","q":1.55,"I":0.0734},{"s":"50%","q":1.6,"I":0.0735},{"s":"50%","q":1.65,"I":0.0724},{"s":"50%","q":1.71,"I":0.0725},{"s":"50%","q":1.76,"I":0.0714},{"s":"50%","q":1.82,"I":0.0715},{"s":"50%","q":1.88,"I":0.0705},{"s":"50%","q":1.94,"I":0.0707},
{"s":"50%","q":2.01,"I":0.0697},{"s":"50%","q":2.07,"I":0.0698},{"s":"50%","q":2.14,"I":0.0688},{"s":"50%","q":2.21,"I":0.0688},{"s":"50%","q":2.28,"I":0.0677},{"s":"50%","q":2.36,"I":0.0677},{"s":"50%","q":2.43,"I":0.0667},{"s":"50%","q":2.51,"I":0.0667},{"s":"50%","q":2.6,"I":0.0656},{"s":"50%","q":2.68,"I":0.0655},{"s":"50%","q":2.77,"I":0.0644},{"s":"50%","q":2.86,"I":0.0644},{"s":"50%","q":2.95,"I":0.0633},
{"s":"50%","q":3.05,"I":0.0629},{"s":"50%","q":3.15,"I":0.0617},{"s":"50%","q":3.25,"I":0.0614},{"s":"50%","q":3.36,"I":0.0603},{"s":"50%","q":3.47,"I":0.0599},{"s":"50%","q":3.58,"I":0.0587},{"s":"50%","q":3.7,"I":0.0583},{"s":"50%","q":3.82,"I":0.0571},{"s":"50%","q":3.95,"I":0.0566},
{"s":"50%","q":4.08,"I":0.0555},{"s":"50%","q":4.21,"I":0.0552},{"s":"50%","q":4.35,"I":0.0541},{"s":"50%","q":4.49,"I":0.0538},{"s":"50%","q":4.64,"I":0.0527},{"s":"50%","q":4.79,"I":0.0524},{"s":"50%","q":4.95,"I":0.0514},
{"s":"50%","q":5.11,"I":0.051},{"s":"50%","q":5.28,"I":0.0504},{"s":"50%","q":5.45,"I":0.0499},{"s":"50%","q":5.63,"I":0.0494},{"s":"50%","q":5.81,"I":0.0488},{"s":"50%","q":6.0,"I":0.0481},{"s":"50%","q":6.2,"I":0.0474},{"s":"50%","q":6.4,"I":0.0467},{"s":"50%","q":6.61,"I":0.0461},{"s":"50%","q":6.82,"I":0.0455},{"s":"50%","q":7.05,"I":0.0453},{"s":"50%","q":7.28,"I":0.0456},{"s":"50%","q":7.52,"I":0.0464},{"s":"50%","q":7.76,"I":0.0474},{"s":"50%","q":8.0,"I":0.0482}
]
},
"hconcat": [
{
  "width": 441, "height": 400,
  "title": {"text": "SANS", "offset": 5, "dx": -7},
  "resolve": {"axis": {"x": "independent", "y": "independent"}},
  "layer": [
    {
      "data": {"name": "sansP"},
      "mark": {"type": "circle", "size": 70, "opacity": 1, "clip": true},
      "encoding": {
        "x": {"field": "q", "type": "quantitative", "scale": {"type": "log", "domain": [0.1, 6], "nice": false},
              "axis": {"orient": "bottom", "title": "q (nm⁻¹)", "values": [0.1,0.2,0.3,0.4,0.5,0.6,0.7,0.8,0.9,1,2,3,4,5],
                       "labelExpr": "datum.value == 0.1 ? '0,1' : datum.value == 1 ? '1' : ''",
                       "tickSize": {"condition": {"test": "datum.value == 0.1 || datum.value == 1", "value": 5}, "value": 3}}},
        "y": {"field": "I", "type": "quantitative", "scale": {"type": "log", "domain": [0.262, 1.8], "nice": false},
              "axis": {"orient": "left", "title": "Intensité diffusée (cm⁻¹)", "titlePadding": 12,
                       "values": [0.27778,0.33333,0.38889,0.44444,0.5,0.55556,0.61111,0.66667,0.72222,0.77778,0.83333,0.88889,0.94444,1,1.05556,1.11111,1.16667,1.22222,1.27778,1.33333,1.38889,1.44444,1.5,1.55556,1.61111,1.66667,1.72222,1.77778],
                       "labelExpr": "datum.value == 0.5 ? '0,5' : datum.value == 1 ? '1' : datum.value == 1.5 ? '1,5' : ''",
                       "tickSize": {"condition": {"test": "datum.value == 0.5 || datum.value == 1 || datum.value == 1.5", "value": 5}, "value": 3}}},
        "color": {"field": "s", "type": "nominal",
                  "scale": {"domain": ["0%", "20%", "50%"], "range": ["#2DEDED", "#1414EE", "#0B0B7D"]},
                  "legend": {"orient": "none", "legendX": 15, "legendY": 268, "title": "Echantillons non contactés à 0,5M",
                             "titleFontSize": 18.7, "titleFontWeight": "normal", "titleColor": "black", "titlePadding": 4, "titleLimit": 600,
                             "labelFontSize": 18.7, "labelColor": "black", "labelLimit": 600, "labelExpr": "'Expérimental TOPO ' + datum.label",
                             "symbolType": "circle", "symbolSize": 80, "symbolOffset": 15, "labelOffset": 20, "rowPadding": 5, "padding": 0, "symbolStrokeWidth": 0}}
      }
    },
    {
      "data": {"name": "sansL"},
      "mark": {"type": "line", "strokeWidth": 2.5, "clip": true},
      "encoding": {
        "x": {"field": "q", "type": "quantitative", "scale": {"type": "log", "domain": [0.1, 6], "nice": false},
              "axis": {"orient": "top", "title": null, "labels": false, "values": [0.1,0.2,0.3,0.4,0.5,0.6,0.7,0.8,0.9,1,2,3,4,5],
                       "tickSize": {"condition": {"test": "datum.value == 0.1 || datum.value == 1", "value": -5}, "value": -3}}},
        "y": {"field": "I", "type": "quantitative", "scale": {"type": "log", "domain": [0.262, 1.8], "nice": false},
              "axis": {"orient": "right", "title": null, "labels": false,
                       "values": [0.27778,0.33333,0.38889,0.44444,0.5,0.55556,0.61111,0.66667,0.72222,0.77778,0.83333,0.88889,0.94444,1,1.05556,1.11111,1.16667,1.22222,1.27778,1.33333,1.38889,1.44444,1.5,1.55556,1.61111,1.66667,1.72222,1.77778],
                       "tickSize": {"condition": {"test": "datum.value == 0.5 || datum.value == 1 || datum.value == 1.5", "value": -5}, "value": -3}}},
        "color": {"field": "s", "type": "nominal"},
        "strokeDash": {"datum": "Calculés", "type": "nominal", "scale": {"range": [[1, 0]]},
                       "legend": {"orient": "none", "legendX": 15, "legendY": 348, "title": null, "labelFontSize": 18.7, "labelColor": "black", "labelLimit": 600,
                                  "symbolType": "stroke", "symbolSize": 1600, "symbolStrokeWidth": 3, "symbolStrokeColor": "#0B0B7D", "labelOffset": 6, "padding": 0}}
      }
    }
  ]
},
{
  "width": 434, "height": 400,
  "title": {"text": "SAXS", "offset": 5, "dx": 7},
  "resolve": {"axis": {"x": "independent", "y": "independent"}},
  "layer": [
    {
      "data": {"name": "saxsP"},
      "mark": {"type": "circle", "size": 80, "opacity": 1, "clip": true},
      "encoding": {
        "x": {"field": "q", "type": "quantitative", "scale": {"type": "log", "domain": [0.2, 8], "nice": false},
              "axis": {"orient": "bottom", "title": "q (nm⁻¹)", "values": [0.2,0.3,0.4,0.5,0.6,0.7,0.8,0.9,1,2,3,4,5,6,7,8],
                       "labelExpr": "datum.value == 1 ? '1' : ''",
                       "tickSize": {"condition": {"test": "datum.value == 1", "value": 5}, "value": 3}}},
        "y": {"field": "I", "type": "quantitative", "scale": {"type": "log", "domain": [0.0438, 0.0891], "nice": false},
              "axis": {"orient": "left", "title": "Intensité diffusée (cm⁻¹)", "titlePadding": 10,
                       "values": [0.04444,0.04556,0.04667,0.04778,0.04889,0.05,0.05111,0.05222,0.05333,0.05444,0.05556,0.05667,0.05778,0.05889,0.06,0.06111,0.06222,0.06333,0.06444,0.06556,0.06667,0.06778,0.06889,0.07,0.07111,0.07222,0.07333,0.07444,0.07556,0.07667,0.07778,0.07889,0.08,0.08111,0.08222,0.08333,0.08444,0.08556,0.08667,0.08778,0.08889],
                       "labelExpr": "datum.value == 0.05 ? '0,05' : datum.value == 0.06 ? '0,06' : datum.value == 0.07 ? '0,07' : datum.value == 0.08 ? '0,08' : ''",
                       "tickSize": {"condition": {"test": "datum.value == 0.05 || datum.value == 0.06 || datum.value == 0.07 || datum.value == 0.08", "value": 5}, "value": 3}}},
        "color": {"field": "s", "type": "nominal",
                  "scale": {"domain": ["0%", "20%", "50%"], "range": ["#2DEDED", "#1414EE", "#0B0B7D"]}, "legend": null}
      }
    },
    {
      "data": {"name": "saxsL"},
      "mark": {"type": "line", "strokeWidth": 2, "clip": true},
      "encoding": {
        "x": {"field": "q", "type": "quantitative", "scale": {"type": "log", "domain": [0.2, 8], "nice": false},
              "axis": {"orient": "top", "title": null, "labels": false, "values": [0.2,0.3,0.4,0.5,0.6,0.7,0.8,0.9,1,2,3,4,5,6,7,8],
                       "tickSize": {"condition": {"test": "datum.value == 1", "value": -5}, "value": -3}}},
        "y": {"field": "I", "type": "quantitative", "scale": {"type": "log", "domain": [0.0438, 0.0891], "nice": false},
              "axis": {"orient": "right", "title": null, "labels": false,
                       "values": [0.04444,0.04556,0.04667,0.04778,0.04889,0.05,0.05111,0.05222,0.05333,0.05444,0.05556,0.05667,0.05778,0.05889,0.06,0.06111,0.06222,0.06333,0.06444,0.06556,0.06667,0.06778,0.06889,0.07,0.07111,0.07222,0.07333,0.07444,0.07556,0.07667,0.07778,0.07889,0.08,0.08111,0.08222,0.08333,0.08444,0.08556,0.08667,0.08778,0.08889],
                       "tickSize": {"condition": {"test": "datum.value == 0.05 || datum.value == 0.06 || datum.value == 0.07 || datum.value == 0.08", "value": -5}, "value": -3}}},
        "color": {"field": "s", "type": "nominal", "legend": null}
      }
    }
  ]
}
]
}
